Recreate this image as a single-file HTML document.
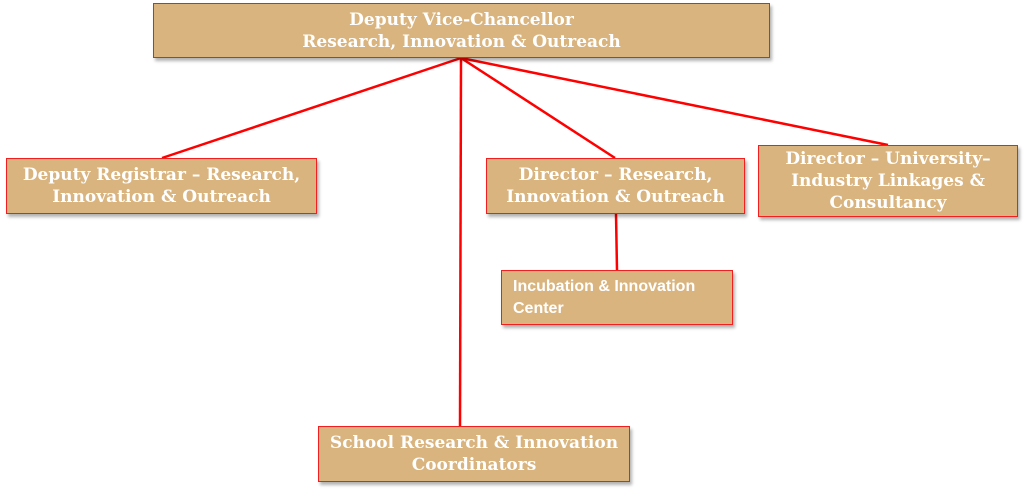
<!DOCTYPE html>
<html><head><style>
body{margin:0;width:1024px;height:495px;background:#fff;position:relative;overflow:hidden;font-family:"DejaVu Serif",serif}
.b{position:absolute;box-sizing:border-box;background:#d9b47f;border:1.5px solid #f02020;color:#fff;font-weight:bold;font-size:17px;line-height:22px;text-align:center;display:flex;align-items:center;justify-content:center;box-shadow:2px 3px 3px rgba(0,0,0,.3);white-space:nowrap}
</style></head><body>
<svg width="1024" height="495" style="position:absolute;left:0;top:0">
<g stroke="#f00" stroke-width="2.5" fill="none">
<line x1="461" y1="58" x2="162" y2="158"/>
<line x1="461" y1="58" x2="460" y2="426"/>
<line x1="461" y1="58" x2="615" y2="158"/>
<line x1="461" y1="58" x2="888" y2="145"/>
<line x1="616" y1="214" x2="617" y2="270"/>
</g></svg>
<div class="b" style="left:153px;top:3px;width:617px;height:55px">Deputy Vice-Chancellor<br>Research, Innovation &amp; Outreach</div>
<div class="b" style="left:6px;top:158px;width:311px;height:56px">Deputy Registrar – Research,<br>Innovation &amp; Outreach</div>
<div class="b" style="left:486px;top:158px;width:259px;height:56px">Director – Research,<br>Innovation &amp; Outreach</div>
<div class="b" style="left:758px;top:145px;width:260px;height:72px">Director – University–<br>Industry Linkages &amp;<br>Consultancy</div>
<div class="b" style="left:501px;top:270px;width:232px;height:55px;justify-content:flex-start;text-align:left;padding-left:11px;font-family:'Liberation Sans',sans-serif;font-weight:bold;font-size:16px;">Incubation &amp; Innovation<br>Center</div>
<div class="b" style="left:318px;top:426px;width:312px;height:56px">School Research &amp; Innovation<br>Coordinators</div>
</body></html>
